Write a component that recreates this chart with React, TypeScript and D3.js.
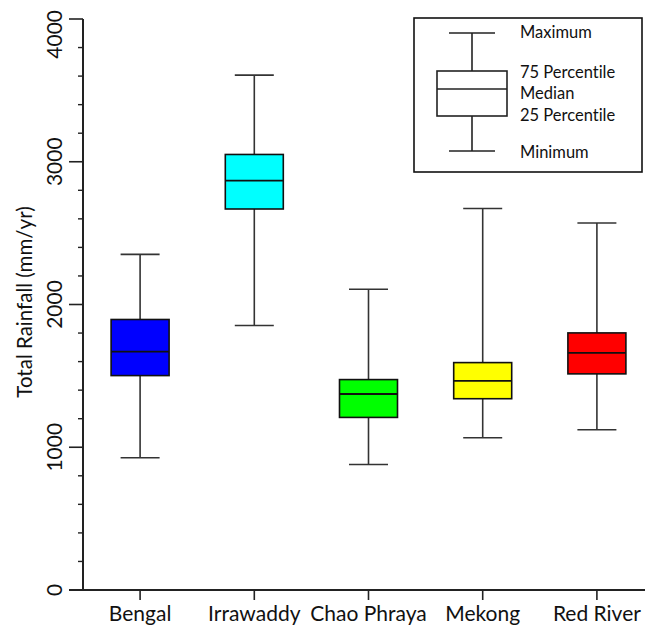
import * as d3 from "d3";

const rivers = ["Bengal", "Irrawaddy", "Chao Phraya", "Mekong", "Red River"];
const minimum = [926, 1853, 879, 1067, 1123];
const q1 = [1502, 2669, 1209, 1340, 1514];
const median = [1670, 2868, 1373, 1465, 1661];
const q3 = [1895, 3051, 1474, 1593, 1801];
const maximum = [2351, 3607, 2107, 2672, 2571];
const boxColors = ["#0000ff", "#00ffff", "#00ff00", "#ffff00", "#ff0000"];
const yTicks = [0, 1000, 2000, 3000, 4000];
const legendLabels = ["Maximum", "75 Percentile", "Median", "25 Percentile", "Minimum"];

const W = 652;
const H = 630;
const font = "Lato, 'Open Sans', sans-serif";

export default function App() {
    const plot = { left: 83, right: 654, top: 19, bottom: 590 };

    const x = d3.scaleBand().domain(rivers).range([plot.left, plot.right]).padding(0);
    const y = d3.scaleLinear().domain([0, 4000]).range([plot.bottom, plot.top]);
    const minorTicks = d3.range(0, 4001, 200).filter(v => v % 1000 !== 0);

    const boxW = 58;
    const capW = 39;

    const boxes = rivers.map((name, i) => ({
        name,
        min: minimum[i],
        q1: q1[i],
        med: median[i],
        q3: q3[i],
        max: maximum[i],
        color: boxColors[i],
    }));

    // legend box, drawn in pixel space of its own frame
    const lg = { x: 414, y: 18, w: 228, h: 154 };
    const lgCx = lg.x + 58;
    const lgRows = [32, 72, 93, 115, 152];

    return (
        <div style={{ position: "fixed", left: 0, top: 0 }}>
            <svg width={W} height={H} style={{ display: "block", background: "#fff", fontVariantLigatures: "none" }}>
                {/* y axis */}
                <line x1={plot.left} x2={plot.left} y1={plot.top} y2={plot.bottom} stroke="#222" strokeWidth={2} />
                {yTicks.map(t => (
                    <line key={`yt-${t}`} x1={plot.left - 14} x2={plot.left} y1={y(t)} y2={y(t)} stroke="#222" strokeWidth={1.6} />
                ))}
                {minorTicks.map(t => (
                    <line key={`ym-${t}`} x1={plot.left - 5} x2={plot.left} y1={y(t)} y2={y(t)} stroke="#222" strokeWidth={1.4} />
                ))}
                {yTicks.map(t => {
                    const top = t === 4000;
                    return (
                        <text
                            key={`yl-${t}`}
                            transform={`translate(62, ${top ? 10 : y(t)}) rotate(-90)`}
                            textAnchor={top ? "end" : "middle"}
                            fontFamily={font}
                            fontSize={21}
                            fill="#111"
                        >
                            {t}
                        </text>
                    );
                })}
                <text
                    transform={`translate(32, 302) rotate(-90)`}
                    textAnchor="middle"
                    fontFamily={font}
                    fontSize={20.5}
                    fill="#111"
                >
                    Total Rainfall (mm/yr)
                </text>

                {/* x axis */}
                <line x1={plot.left - 14} x2={645} y1={plot.bottom} y2={plot.bottom} stroke="#222" strokeWidth={2} />
                {rivers.map(r => {
                    const cx = x(r)! + x.bandwidth() / 2;
                    return (
                        <g key={`xt-${r}`}>
                            <line x1={cx} x2={cx} y1={plot.bottom} y2={plot.bottom + 10} stroke="#222" strokeWidth={1.6} />
                            <text x={cx} y={621} textAnchor="middle" fontFamily={font} fontSize={21} fill="#111">
                                {r}
                            </text>
                        </g>
                    );
                })}

                {/* boxes */}
                {boxes.map(b => {
                    const cx = x(b.name)! + x.bandwidth() / 2;
                    return (
                        <g key={`box-${b.name}`}>
                            <line x1={cx} x2={cx} y1={y(b.max)} y2={y(b.q3)} stroke="#333" strokeWidth={1.6} />
                            <line x1={cx} x2={cx} y1={y(b.q1)} y2={y(b.min)} stroke="#333" strokeWidth={1.6} />
                            <line x1={cx - capW / 2} x2={cx + capW / 2} y1={y(b.max)} y2={y(b.max)} stroke="#333" strokeWidth={1.6} />
                            <line x1={cx - capW / 2} x2={cx + capW / 2} y1={y(b.min)} y2={y(b.min)} stroke="#333" strokeWidth={1.6} />
                            <rect
                                x={cx - boxW / 2}
                                y={y(b.q3)}
                                width={boxW}
                                height={y(b.q1) - y(b.q3)}
                                fill={b.color}
                                stroke="#111"
                                strokeWidth={1.6}
                            />
                            <line x1={cx - boxW / 2} x2={cx + boxW / 2} y1={y(b.med)} y2={y(b.med)} stroke="#111" strokeWidth={1.8} />
                        </g>
                    );
                })}

                {/* legend */}
                <rect x={lg.x} y={lg.y} width={lg.w} height={lg.h} fill="#fff" stroke="#111" strokeWidth={1.6} />
                <line x1={lgCx} x2={lgCx} y1={33} y2={151} stroke="#222" strokeWidth={1.6} />
                <line x1={lgCx - 23} x2={lgCx + 23} y1={33} y2={33} stroke="#222" strokeWidth={1.6} />
                <line x1={lgCx - 23} x2={lgCx + 23} y1={151} y2={151} stroke="#222" strokeWidth={1.6} />
                <rect x={lgCx - 35} y={71} width={70} height={45} fill="#fff" stroke="#222" strokeWidth={1.6} />
                <line x1={lgCx - 35} x2={lgCx + 35} y1={89} y2={89} stroke="#222" strokeWidth={1.6} />
                {legendLabels.map((l, i) => (
                    <text
                        key={`lg-${l}`}
                        x={520}
                        y={lgRows[i]}
                        dy="0.36em"
                        fontFamily={font}
                        fontSize={16.5}
                        fill="#111"
                    >
                        {l}
                    </text>
                ))}
            </svg>
        </div>
    );
}
